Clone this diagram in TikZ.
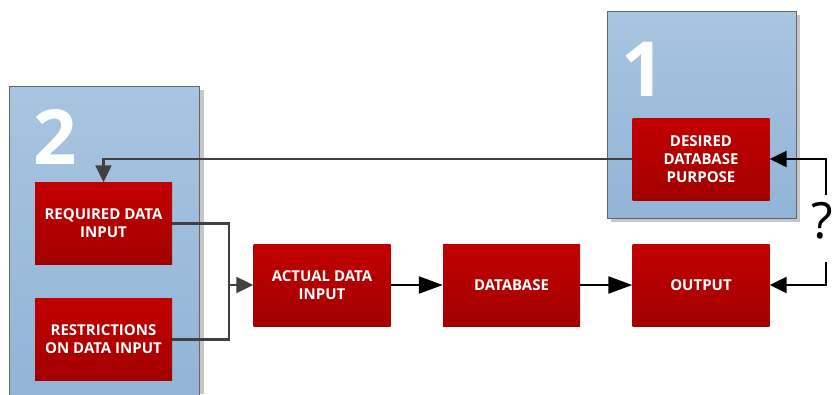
\documentclass[tikz,border=0pt]{standalone}
\usepackage{fontspec}
\setmainfont{Open Sans}
\usetikzlibrary{arrows.meta}
\definecolor{panTop}{HTML}{A8C5E0}
\definecolor{panBot}{HTML}{92B4D6}
\definecolor{boxTop}{HTML}{C20000}
\definecolor{boxBot}{HTML}{A20000}
\definecolor{gline}{HTML}{404040}
\begin{document}
\begin{tikzpicture}[x=1pt,y=-1pt,
  panel/.style={draw=black!60, line width=0.8pt, top color=panTop, bottom color=panBot},
  shadowbox/.style={fill=black!22, draw=none},
  box/.style={top color=boxTop, bottom color=boxBot, text=white,
    font=\bfseries\fontsize{15}{18}\selectfont, align=center,
    minimum width=137pt, minimum height=82pt, inner sep=0pt},
  numtext/.style={text=white, font=\bfseries\fontsize{76}{76}\selectfont, inner sep=0pt},
  gconn/.style={draw=gline, line width=2.2pt},
  garrow/.style={gconn, -{Triangle[length=17pt,width=16pt]}},
  barrow/.style={draw=black, line width=2.2pt, -{Triangle[length=24pt,width=17pt]}},
  farrow/.style={draw=black, line width=2.4pt, -{Triangle[length=17pt,width=16pt]}}
]
\useasboundingbox (0,0) rectangle (834,394);
% panel 2
\path[shadowbox] (199,90) rectangle (204,394);
\path[panel] (9,86) rectangle (199,395);
% panel 1
\path[shadowbox] (611,15) rectangle (800,222);
\path[panel] (607,11) rectangle (796,218);
\node[numtext] (n2) at (55,137) {2};
\node[numtext] (n1) at (643,69) {1};
% boxes
\node[box] (req) at (103.5,223.5) {REQUIRED DATA\\INPUT};
\node[box] (res) at (103.5,339.5) {RESTRICTIONS\\ON DATA INPUT};
\node[box] (act) at (322,285) {ACTUAL DATA\\INPUT};
\node[box] (db) at (511.5,285) {DATABASE};
\node[box] (out) at (701,285) {OUTPUT};
\node[box] (des) at (701,159) {DESIRED\\DATABASE\\PURPOSE};
% connectors
\coordinate (m) at (229,285);
\draw[garrow] (des.west) -| (req.north);
\draw[gconn] (req.east) -| (m);
\draw[gconn] (res.east) -| (m);
\draw[garrow] (m) -- (act.west);
\draw[barrow] (act) -- (db);
\draw[barrow] (db) -- (out);
\coordinate (q1) at (826,195);
\coordinate (q2) at (826,262);
\draw[farrow] (q1) |- (des.east);
\draw[farrow] (q2) |- (out.east);
\node[font=\fontsize{50}{50}\selectfont, inner sep=0pt] (qm) at (822,221) {?};
\end{tikzpicture}
\end{document}
